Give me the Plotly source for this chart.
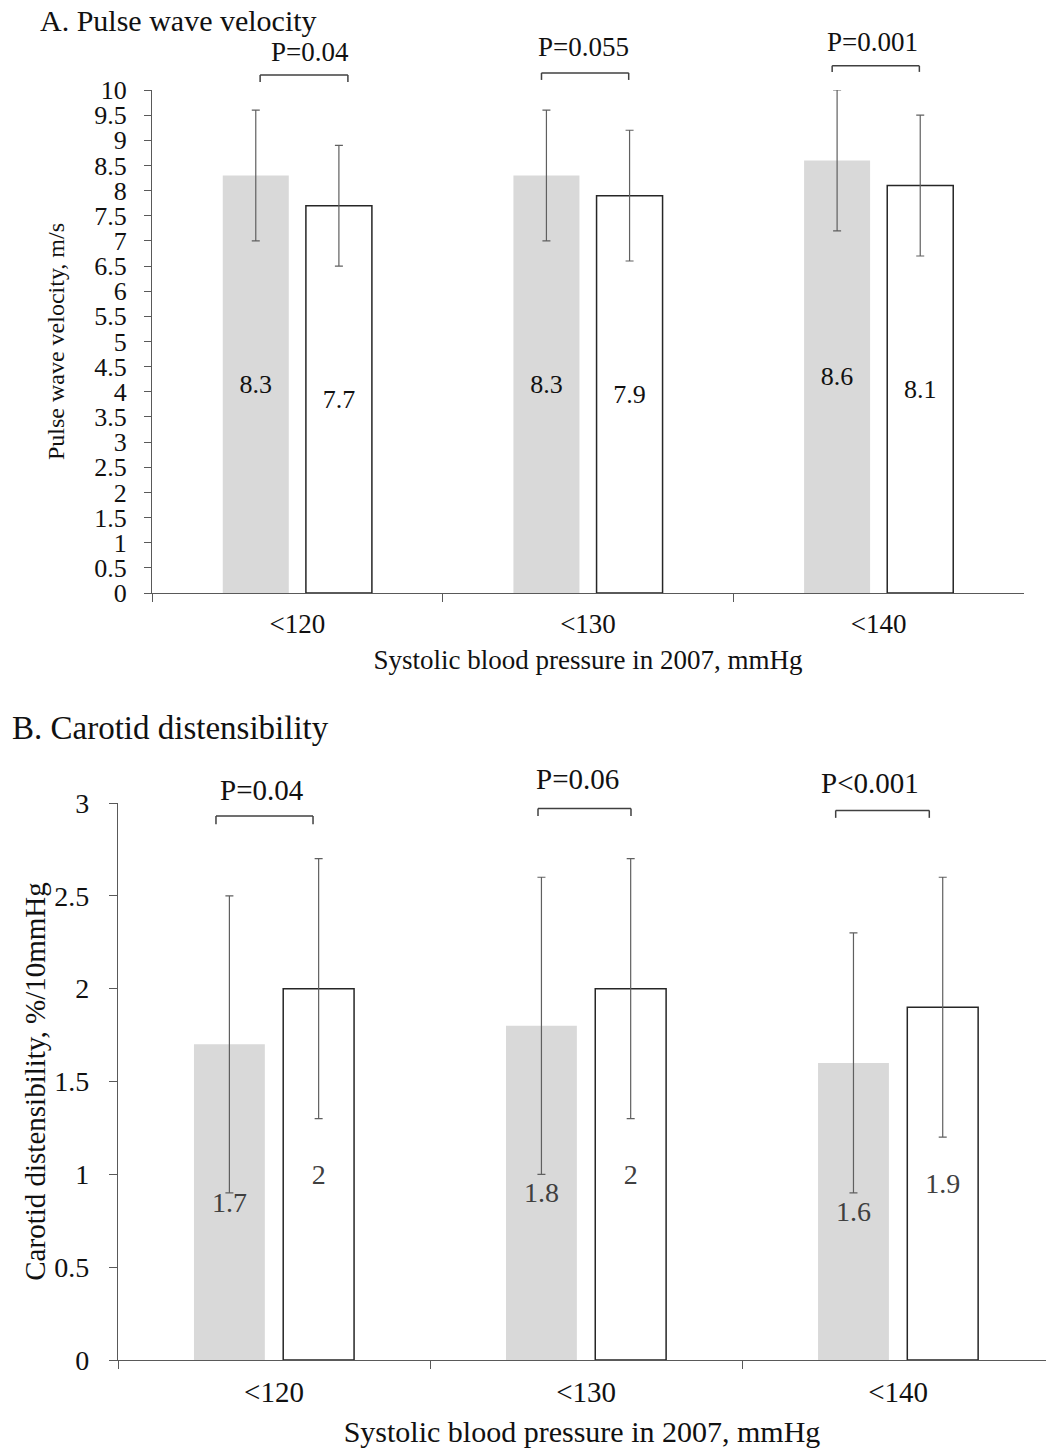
import plotly.graph_objects as go

# ---------------- data ----------------
categories = ["<120", "<130", "<140"]

pwv_grey = [8.3, 8.3, 8.6]
pwv_grey_err = [1.3, 1.3, 1.4]
pwv_white = [7.7, 7.9, 8.1]
pwv_white_err = [1.2, 1.3, 1.4]
pwv_p = ["P=0.04", "P=0.055", "P=0.001"]

cd_grey = [1.7, 1.8, 1.6]
cd_grey_err = [0.8, 0.8, 0.7]
cd_white = [2.0, 2.0, 1.9]
cd_white_err = [0.7, 0.7, 0.7]
cd_p = ["P=0.04", "P=0.06", "P<0.001"]

x_title = "Systolic blood pressure in 2007, mmHg"
pwv_ytitle = "Pulse wave velocity, m/s"
cd_ytitle = "Carotid distensibility, %/10mmHg"

# ---------------- styling ----------------
W, H = 1046, 1448
FONT = "Liberation Serif"
AX = "#595959"
GREY = "#d9d9d9"
TXT = "#111111"

top_rng_x = [-0.5, 2.5]
top_rng_y = [0, 10]
bot_rng_x = [-0.5, 2.474]
bot_rng_y = [0, 3]

# bracket layout: (dx_lo, dx_hi, y_bar, y_leg) and p-text (dx, y)
top_br = [(-0.128, 0.174, 10.30, 10.16), (-0.16, 0.14, 10.34, 10.20), (-0.16, 0.14, 10.48, 10.36)]
top_pt = [(0.044, 10.76), (-0.017, 10.85), (-0.02, 10.95)]
bot_br = [(-0.186, 0.125, 2.93, 2.886), (-0.154, 0.144, 2.97, 2.93), (-0.2, 0.1, 2.96, 2.92)]
bot_pt = [(-0.038, 3.07), (-0.029, 3.13), (-0.09, 3.11)]


def fmt(v):
    return f"{v:g}"


def bars(vals, errs, xa, ya, fill, line_w, fsize, tcolor, ecolor):
    return go.Bar(
        x=categories, y=vals, xaxis=xa, yaxis=ya,
        marker=dict(color=fill, line=dict(color="#262626", width=line_w)),
        text=[fmt(v) for v in vals], textposition="inside", insidetextanchor="middle",
        insidetextfont=dict(family=FONT, size=fsize, color=tcolor),
        error_y=dict(type="data", array=errs, visible=True, color=ecolor, thickness=1.2, width=4),
        showlegend=False, hoverinfo="skip",
    )


fig = go.Figure()
fig.add_trace(bars(pwv_grey, pwv_grey_err, "x", "y", GREY, 0, 26, TXT, "#606060"))
fig.add_trace(bars(pwv_white, pwv_white_err, "x", "y", "white", 1.5, 26, TXT, "#606060"))
fig.add_trace(bars(cd_grey, cd_grey_err, "x2", "y2", GREY, 0, 28, "#404040", "#606060"))
fig.add_trace(bars(cd_white, cd_white_err, "x2", "y2", "white", 1.5, 28, "#404040", "#606060"))


def xaxis(domain, rng, anchor, fsize, tsize, standoff, labstand):
    return dict(
        domain=domain, anchor=anchor, type="category", range=rng, automargin=False,
        showline=True, linecolor=AX, linewidth=1.3, showgrid=False, zeroline=False,
        ticks="outside", tickson="boundaries", ticklen=8, tickcolor=AX, tickwidth=1.3,
        ticklabelstandoff=labstand,
        tickfont=dict(family=FONT, size=fsize, color=TXT),
        title=dict(text=x_title, font=dict(family=FONT, size=tsize, color=TXT), standoff=standoff),
    )


def yaxis(domain, rng, anchor, fsize, title, tsize, standoff, ticklen, labstand):
    return dict(
        domain=domain, anchor=anchor, range=rng, tick0=0, dtick=0.5, automargin=False,
        showline=True, linecolor=AX, linewidth=1.3, showgrid=False, zeroline=False,
        ticks="outside", ticklen=ticklen, tickcolor=AX, tickwidth=1.3,
        ticklabelstandoff=labstand,
        tickfont=dict(family=FONT, size=fsize, color=TXT),
        title=dict(text=title, font=dict(family=FONT, size=tsize, color=TXT), standoff=standoff),
    )


fig.update_layout(
    width=W, height=H, margin=dict(l=0, r=0, t=0, b=0, autoexpand=False),
    paper_bgcolor="white", plot_bgcolor="white",
    barmode="group", bargap=0.428, bargroupgap=0.206,
    xaxis=xaxis([152 / W, 1024 / W], top_rng_x, "y", 27, 27, 12, 6),
    yaxis=yaxis([(H - 593) / H, (H - 90) / H], top_rng_y, "x", 26, pwv_ytitle, 24, 22, 7, 12),
    xaxis2=xaxis([118 / W, 1.0], bot_rng_x, "y2", 29, 30, 14, 6),
    yaxis2=yaxis([88 / H, (H - 803) / H], bot_rng_y, "x2", 28, cd_ytitle, 29, 0, 8, 14),
)


def dx_dom(i, dx, rng):
    return (i + dx - rng[0]) / (rng[1] - rng[0])


def dy_dom(v, rng):
    return (v - rng[0]) / (rng[1] - rng[0])


shapes = []
annos = []
panels = [
    ("x", "y", top_rng_x, top_rng_y, top_br, top_pt, pwv_p, 27),
    ("x2", "y2", bot_rng_x, bot_rng_y, bot_br, bot_pt, cd_p, 29),
]
for xa, ya, rx, ry, brs, pts, ptxt, fs in panels:
    for i, (lo, hi, yb, yl) in enumerate(brs):
        x0, x1 = dx_dom(i, lo, rx), dx_dom(i, hi, rx)
        y0, y1 = dy_dom(yb, ry), dy_dom(yl, ry)
        ln = dict(color="#404040", width=1.5)
        common = dict(type="line", xref=f"{xa} domain", yref=f"{ya} domain", line=ln, layer="above")
        shapes.append(dict(x0=x0, x1=x1, y0=y0, y1=y0, **common))
        shapes.append(dict(x0=x0, x1=x0, y0=y0, y1=y1, **common))
        shapes.append(dict(x0=x1, x1=x1, y0=y0, y1=y1, **common))
    for i, ((dx, yv), t) in enumerate(zip(pts, ptxt)):
        annos.append(dict(
            x=dx_dom(i, dx, rx), y=dy_dom(yv, ry), xref=f"{xa} domain", yref=f"{ya} domain",
            text=t, showarrow=False, xanchor="center", yanchor="middle",
            font=dict(family=FONT, size=fs, color=TXT),
        ))

annos.append(dict(x=38 / W, y=1 - 20 / H, xref="paper", yref="paper", text="A. Pulse wave velocity",
                  showarrow=False, xanchor="left", yanchor="middle",
                  font=dict(family=FONT, size=30, color=TXT)))
annos.append(dict(x=10 / W, y=1 - 728 / H, xref="paper", yref="paper", text="B. Carotid distensibility",
                  showarrow=False, xanchor="left", yanchor="middle",
                  font=dict(family=FONT, size=33, color=TXT)))

fig.update_layout(shapes=shapes, annotations=annos)
fig.write_html("out.html")
